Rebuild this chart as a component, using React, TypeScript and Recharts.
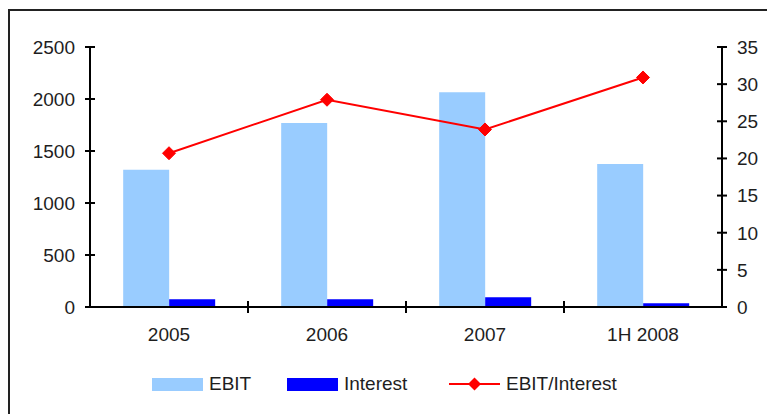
import React from "react";
import { ComposedChart, Bar, Line, XAxis, YAxis, Legend } from "recharts";

const categories = ["2005", "2006", "2007", "1H 2008"];
const ebit = [1320, 1770, 2065, 1375];
const interest = [74, 74, 93, 35];
const ratio = [20.7, 27.9, 23.9, 30.9];
const leftTicks = [0, 500, 1000, 1500, 2000, 2500];
const rightTicks = [0, 5, 10, 15, 20, 25, 30, 35];

const data = categories.map((c, i) => ({
  cat: c,
  EBIT: ebit[i],
  Interest: interest[i],
  "EBIT/Interest": ratio[i],
}));

const FONT = "'Liberation Sans', Arial, sans-serif";
const FS = 19;
const TXT = "#1e1e1e";
const CW = 757;
const CH = 404;
const YL_W = 80;
const YR_W = 45;
const PLOT_W = CW - YL_W - YR_W;
const HALF_BAND = PLOT_W / categories.length / 2;

const LeftTick = (props: any) => {
  const { x, y, payload } = props;
  return (
    <g>
      <line x1={x - 5} x2={x + 5} y1={y} y2={y} stroke="#000" strokeWidth={2} />
      <text x={x - 15} y={y} dy="0.36em" textAnchor="end" fontFamily={FONT} fontSize={FS} fill={TXT}>
        {payload.value}
      </text>
    </g>
  );
};

const RightTick = (props: any) => {
  const { x, y, payload } = props;
  return (
    <g>
      <line x1={x - 5} x2={x + 5} y1={y} y2={y} stroke="#000" strokeWidth={2} />
      <text x={x + 15} y={y} dy="0.36em" textAnchor="start" fontFamily={FONT} fontSize={FS} fill={TXT}>
        {payload.value}
      </text>
    </g>
  );
};

const XTick = (props: any) => {
  const { x, y, payload, index } = props;
  return (
    <g>
      {index > 0 && (
        <line x1={x - HALF_BAND} x2={x - HALF_BAND} y1={y - 6} y2={y + 6} stroke="#000" strokeWidth={2} />
      )}
      <text x={x} y={y + 27} dy="0.36em" textAnchor="middle" fontFamily={FONT} fontSize={FS} fill={TXT}>
        {payload.value}
      </text>
    </g>
  );
};

const Diamond = (props: any) => {
  const { cx, cy } = props;
  if (cx == null || cy == null) return null;
  const s = 6.5;
  return (
    <polygon
      points={`${cx},${cy - s} ${cx + s},${cy} ${cx},${cy + s} ${cx - s},${cy}`}
      fill="#FF0000"
      stroke="#FF0000"
    />
  );
};

const itemLefts = [142, 277, 439];

const renderLegend = (props: any) => {
  const { payload } = props;
  const order = ["EBIT", "Interest", "EBIT/Interest"];
  const items = order.map((k) => (payload || []).find((p: any) => p.value === k)).filter(Boolean);
  return (
    <div style={{ position: "relative", width: CW, height: 30 }}>
      {items.map((p: any, i: number) => (
        <div
          key={p.value}
          style={{
            position: "absolute",
            left: itemLefts[i],
            top: 0,
            height: 30,
            display: "flex",
            alignItems: "center",
            fontFamily: FONT,
            fontSize: FS,
            color: TXT,
            whiteSpace: "nowrap",
          }}
        >
          {p.type === "line" ? (
            <svg width={51} height={14} style={{ marginRight: 6 }}>
              <line x1={0} x2={51} y1={7} y2={7} stroke="#FF0000" strokeWidth={2} />
              <polygon points="25.5,0.5 32,7 25.5,13.5 19,7" fill="#FF0000" />
            </svg>
          ) : (
            <div style={{ width: 51, height: 13, background: p.color, marginRight: 6 }} />
          )}
          <span>{p.value}</span>
        </div>
      ))}
    </div>
  );
};

export default function App() {
  return (
    <div
      style={{
        width: 759,
        height: 406,
        borderTop: "2px solid #222",
        borderLeft: "2px solid #222",
        boxSizing: "border-box",
        background: "#fff",
        marginTop: 1,
      }}
    >
      <style>{`body{overflow:hidden;background:#fff}`}</style>
      <ComposedChart
        width={CW}
        height={CH}
        data={data}
        margin={{ top: 36, right: 0, bottom: 16, left: 0 }}
        barCategoryGap="21%"
        barGap={0}
      >
        <XAxis
          dataKey="cat"
          interval={0}
          tickSize={0}
          tickMargin={0}
          tick={<XTick />}
          tickLine={false}
          axisLine={{ stroke: "#000", strokeWidth: 2 }}
          height={62}
        />
        <YAxis
          yAxisId="left"
          orientation="left"
          width={YL_W}
          domain={[0, 2500]}
          ticks={leftTicks}
          tickSize={0}
          tickMargin={0}
          tickLine={false}
          tick={<LeftTick />}
          axisLine={{ stroke: "#000", strokeWidth: 2 }}
        />
        <YAxis
          yAxisId="right"
          orientation="right"
          width={YR_W}
          domain={[0, 35]}
          ticks={rightTicks}
          tickSize={0}
          tickMargin={0}
          tickLine={false}
          tick={<RightTick />}
          axisLine={{ stroke: "#000", strokeWidth: 2 }}
        />
        <Legend verticalAlign="bottom" height={30} content={renderLegend} wrapperStyle={{ left: 0, width: CW }} />
        <Bar yAxisId="left" dataKey="EBIT" fill="#99CCFF" isAnimationActive={false} legendType="rect" />
        <Bar yAxisId="left" dataKey="Interest" fill="#0000FF" isAnimationActive={false} legendType="rect" />
        <Line
          yAxisId="right"
          dataKey="EBIT/Interest"
          stroke="#FF0000"
          strokeWidth={2}
          dot={<Diamond />}
          activeDot={false}
          legendType="line"
          isAnimationActive={false}
        />
      </ComposedChart>
    </div>
  );
}
